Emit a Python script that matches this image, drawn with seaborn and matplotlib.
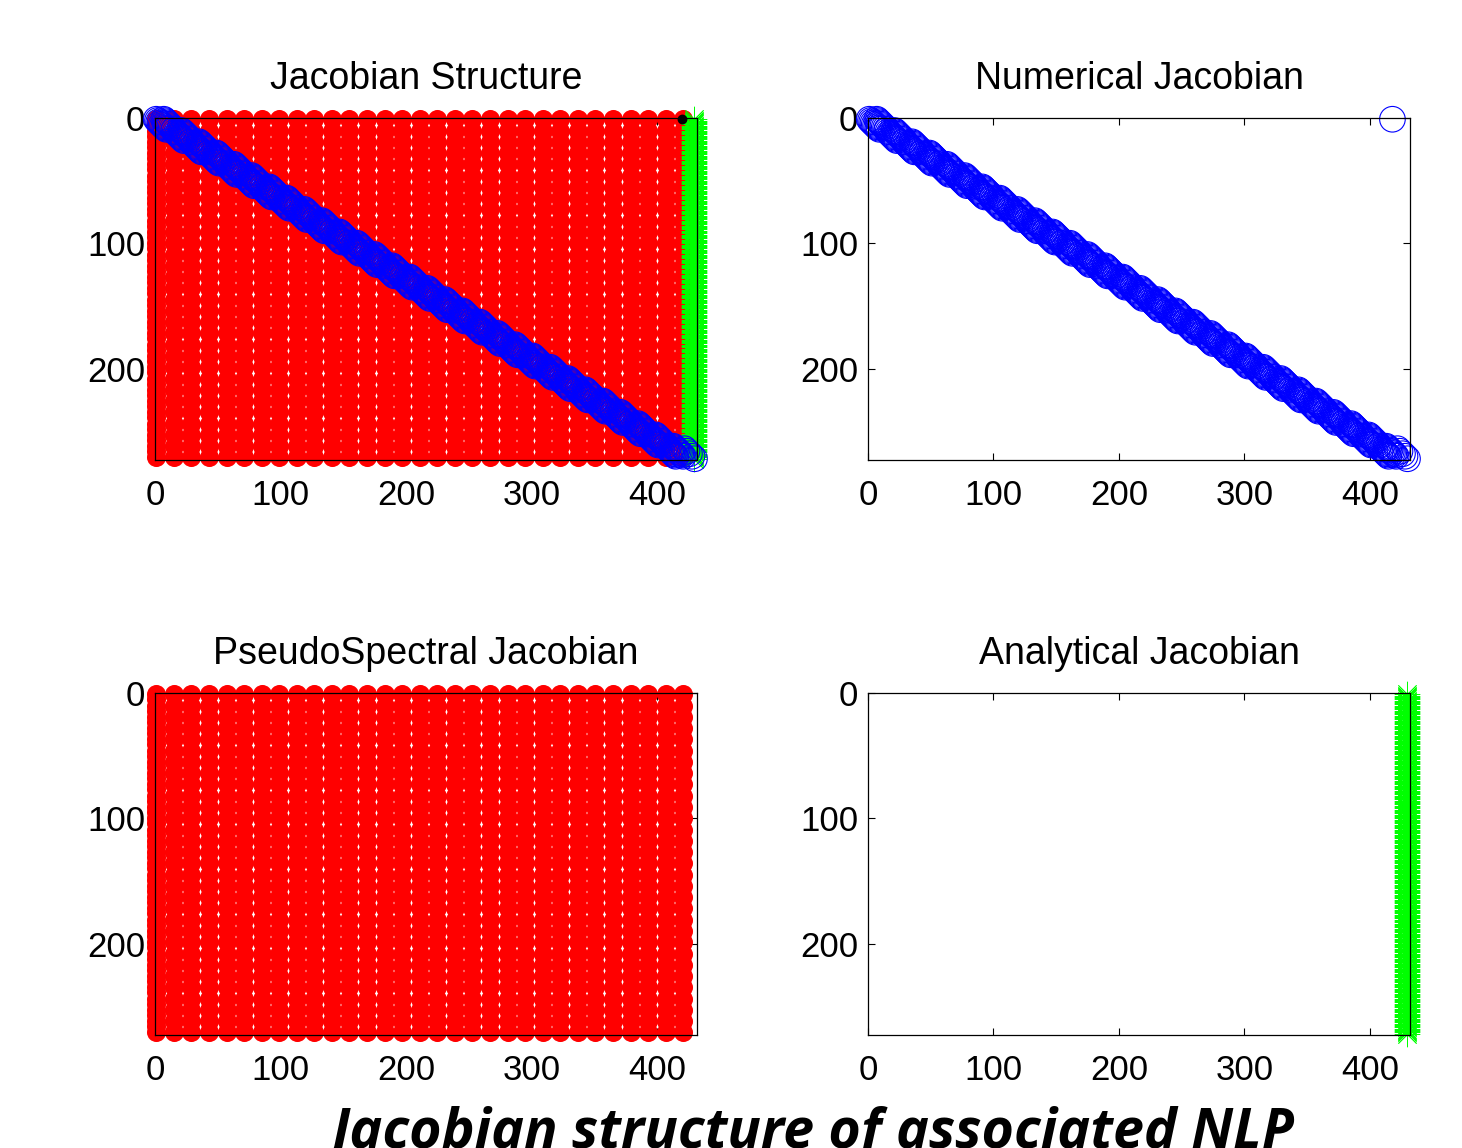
import numpy as np
import pandas as pd
import seaborn as sns
import matplotlib
matplotlib.use("Agg")
import matplotlib.pyplot as plt

# size of the NLP Jacobian (rows x cols)
n_rows = 272
n_cols = 431

# pseudospectral part: one dot per node block (9 rows x 14 cols per node)
ps_rows = [1, 10, 19, 28, 37, 46, 55, 64, 73, 82, 91, 100, 109, 118, 127, 136,
           145, 154, 163, 172, 181, 190, 199, 208, 217, 226, 235, 244, 253, 262, 271]
ps_cols = [1, 15, 29, 43, 57, 71, 85, 99, 113, 127, 141, 155, 169, 183, 197, 211,
           225, 239, 253, 267, 281, 295, 309, 323, 337, 351, 365, 379, 393, 407, 421]
# extra entries running down the first column
ps_edge_rows = [5, 14, 23, 32, 41, 50, 59, 68, 77, 86, 95, 104, 113, 122, 131, 140,
                149, 158, 167, 176, 185, 194, 203, 212, 221, 230, 239, 248, 257, 266]

# numerical part: short diagonals inside each node block
num_block_rows = ps_rows[:30]
num_block_cols = ps_cols[:30]
num_block_len = 9
num_block_shift = [0, 6]
num_end_rows = [264, 266, 268, 270, 272]
num_end_cols = [422, 424, 426, 428, 430]
num_corner = (1, 418)

# analytical part: the final-time column, every row
an_cols = [430]

# single entry shown in black in the structure plot
black_entry = (1, 420)

# ---- build the nonzero lists ----
ps = pd.DataFrame([(c, r) for r in ps_rows for c in ps_cols], columns=["col", "row"])
ps = pd.concat([ps, pd.DataFrame({"col": 1, "row": ps_edge_rows})], ignore_index=True)

num = []
for r0, c0 in zip(num_block_rows, num_block_cols):
    for sh in num_block_shift:
        for i in range(num_block_len):
            num.append((c0 + i + sh, r0 + i))
num += list(zip(num_end_cols, num_end_rows))
num = pd.DataFrame(num, columns=["col", "row"])
num_full = pd.concat([num, pd.DataFrame([(num_corner[1], num_corner[0])], columns=["col", "row"])],
                     ignore_index=True)

an = pd.DataFrame([(c, r) for c in an_cols for r in np.arange(1, n_rows + 1)], columns=["col", "row"])
blk = pd.DataFrame([(black_entry[1], black_entry[0])], columns=["col", "row"])

sns.set_theme(style="white")
plt.rcParams['font.family'] = ['Liberation Sans', 'DejaVu Sans']
plt.rcParams['text.color'] = 'black'

fig = plt.figure(figsize=(14.62, 11.48), dpi=100)
W, H = 1462, 1148
boxes = [(155, 118), (868, 118), (155, 693), (868, 693)]
axes = []
for (x0, y0) in boxes:
    ax = fig.add_axes([x0 / W, 1 - (y0 + 342) / H, 542 / W, 342 / H])
    axes.append(ax)


def red(ax, d):
    sns.scatterplot(data=d, x="col", y="row", ax=ax, color="red", marker="o",
                    s=188, linewidth=0, clip_on=False, legend=False, zorder=1)


def blue(ax, d):
    sns.scatterplot(data=d, x="col", y="row", ax=ax, marker="o", s=340,
                    facecolor="none", edgecolor="blue", linewidth=0.8,
                    clip_on=False, legend=False, zorder=3)


def green(ax, d):
    sns.scatterplot(data=d, x="col", y="row", ax=ax, color="lime", marker=(8, 2, 0),
                    s=320, linewidth=0.6, clip_on=False, legend=False, zorder=2)


ax1, ax2, ax3, ax4 = axes
red(ax1, ps)
green(ax1, an)
blue(ax1, num)
sns.scatterplot(data=blk, x="col", y="row", ax=ax1, color="black", marker="o",
                s=50, linewidth=0, clip_on=False, legend=False, zorder=4)
blue(ax2, num_full)
red(ax3, ps)
green(ax4, an)

titles = ["Jacobian Structure", "Numerical Jacobian",
          "PseudoSpectral Jacobian", "Analytical Jacobian"]
for ax, t in zip(axes, titles):
    ax.set_xlim(0, n_cols + 1)
    ax.set_ylim(n_rows + 1, 0)
    ax.set_xticks([0, 100, 200, 300, 400])
    ax.set_yticks([0, 100, 200])
    ax.set_xlabel("")
    ax.set_ylabel("")
    ax.set_title(t, fontsize=27, pad=21, color="black")
    ax.tick_params(direction="in", length=5, width=0.8, colors="black",
                   labelsize=25, labelcolor="black", top=True, right=True,
                   bottom=True, left=True)
    ax.tick_params(axis="x", pad=14)
    ax.tick_params(axis="y", pad=7)
    for sp in ax.spines.values():
        sp.set_visible(True)
        sp.set_color("black")
        sp.set_linewidth(0.9)
        sp.set_zorder(5)

fig.text(813 / W, 0.0, "Jacobian structure of associated NLP", ha="center", va="baseline",
         fontsize=40, fontweight="bold", fontstyle="italic", color="black",
         family=["Open Sans", "DejaVu Sans"])

fig.savefig("out.png", dpi=100)
